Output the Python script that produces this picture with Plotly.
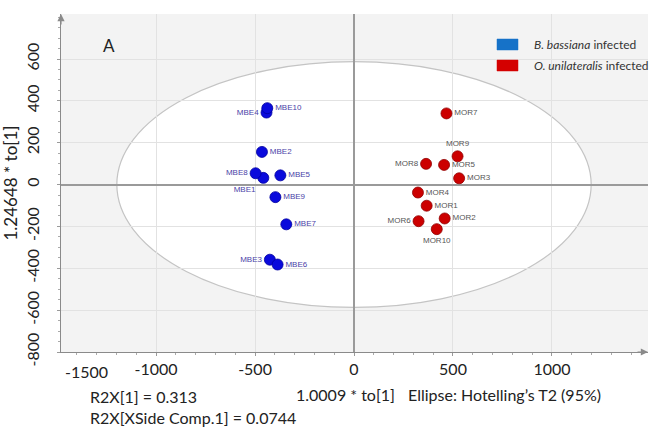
import plotly.graph_objects as go

# Scores for the two groups (predictive component vs orthogonal component)
mbe_names = ["MBE1", "MBE2", "MBE3", "MBE4", "MBE5", "MBE6", "MBE7", "MBE8", "MBE9", "MBE10"]
mbe_x = [-458, -465, -425, -442, -372, -386, -342, -497, -397, -438]
mbe_y = [32, 156, -359, 344, 44, -382, -190, 54, -60, 365]

mor_names = ["MOR1", "MOR2", "MOR3", "MOR4", "MOR5", "MOR6", "MOR7", "MOR8", "MOR9", "MOR10"]
mor_x = [367, 458, 531, 323, 455, 326, 467, 364, 523, 418]
mor_y = [-101, -162, 30, -38, 94, -175, 340, 99, 135, -213]

mbe_pos = ["bottom left", "middle right", "middle left", "middle left", "middle right",
           "middle right", "middle right", "middle left", "middle right", "middle right"]
mor_pos = ["middle right", "middle right", "middle right", "middle right", "middle right",
           "middle left", "middle right", "middle left", "top center", "bottom center"]

# Hotelling's T2 (95%) ellipse semi-axes
ell_a = 1198
ell_b = 587

x_ticks = [-1000, -500, 0, 500, 1000]
y_ticks = [-800, -600, -400, -200, 0, 200, 400, 600]

FONT = "Lato, 'Open Sans', sans-serif"

fig = go.Figure()

fig.add_trace(go.Scatter(
    x=mbe_x, y=mbe_y, mode="markers+text", text=mbe_names, textposition=mbe_pos,
    marker=dict(size=11, color="#0a0adc", line=dict(color="#0000a0", width=0.8)),
    textfont=dict(family="Arial, sans-serif", size=8, color="#4a3fa8"),
    showlegend=False, cliponaxis=False,
))
fig.add_trace(go.Scatter(
    x=mor_x, y=mor_y, mode="markers+text", text=mor_names, textposition=mor_pos,
    marker=dict(size=11, color="#cc0000", line=dict(color="#900000", width=0.8)),
    textfont=dict(family="Arial, sans-serif", size=8, color="#555555"),
    showlegend=False, cliponaxis=False,
))

fig.add_shape(type="circle", xref="x", yref="y",
              x0=-ell_a, x1=ell_a, y0=-ell_b, y1=ell_b,
              fillcolor="white", line=dict(color="#c4c4c4", width=1.2), layer="below")

# Legend swatches
L, T, W, H = 61, 14, 587, 338
def px(x):
    return (x - L) / W
def py(y):
    return (T + H - y) / H

for yc, col, label in [(44.5, "#1672c8", "<i>B. bassiana</i> infected"),
                       (65.5, "#d40000", "<i>O. unilateralis</i> infected")]:
    fig.add_shape(type="rect", xref="paper", yref="paper",
                  x0=px(497), x1=px(518), y0=py(yc + 5.5), y1=py(yc - 5.5),
                  fillcolor=col, line=dict(color=col, width=0.5))
    fig.add_annotation(xref="paper", yref="paper", x=px(532), y=py(yc), text=label,
                       showarrow=False, xanchor="left", yanchor="middle",
                       font=dict(family=FONT, size=12, color="#333333"))

# Panel letter
fig.add_annotation(xref="paper", yref="paper", x=px(101), y=py(33), text="A",
                   showarrow=False, font=dict(family=FONT, size=17, color="#222222"))

# Axis arrows
fig.add_annotation(xref="paper", yref="paper", x=0, y=1, ax=0, ay=12, text="",
                   showarrow=True, arrowhead=2, arrowsize=1.2, arrowwidth=1.2,
                   arrowcolor="#8a8a8a")
fig.add_annotation(xref="paper", yref="paper", x=1, y=0, ax=-12, ay=0, text="",
                   showarrow=True, arrowhead=2, arrowsize=1.2, arrowwidth=1.2,
                   arrowcolor="#8a8a8a")

# First x tick label, kept inside the axis start
fig.add_annotation(xref="paper", yref="paper", x=px(63), y=py(371), text="-1500",
                   showarrow=False, xanchor="left", yanchor="middle",
                   font=dict(family=FONT, size=16, color="#222222"))

# Summary statistics under the axis
for x0, yc, txt in [(88, 396, "R2X[1] = 0.313"),
                    (88, 418, "R2X[XSide Comp.1] = 0.0744")]:
    fig.add_annotation(xref="paper", yref="paper", x=px(x0), y=py(yc), text=txt,
                       showarrow=False, xanchor="left", yanchor="middle",
                       font=dict(family=FONT, size=16, color="#222222"))
fig.add_annotation(xref="paper", yref="paper", x=px(397), y=py(394), text="1.0009 * to[1]",
                   showarrow=False, xanchor="right", yanchor="middle",
                   font=dict(family=FONT, size=16, color="#222222"))
fig.add_annotation(xref="paper", yref="paper", x=px(406), y=py(394),
                   text="Ellipse: Hotelling\u2019s T2 (95%)",
                   showarrow=False, xanchor="left", yanchor="middle",
                   font=dict(family=FONT, size=16, color="#222222"))

fig.update_xaxes(
    range=[-1480, 1485], tickvals=x_ticks, ticktext=[str(v) for v in x_ticks],
    showgrid=True, gridcolor="#e2e2e2", gridwidth=1,
    zeroline=True, zerolinecolor="#9a9a9a", zerolinewidth=1.6,
    showline=True, linecolor="#8a8a8a", linewidth=1.2,
    ticks="outside", ticklen=3, tickcolor="#9a9a9a",
    minor=dict(dtick=100, ticks="outside", ticklen=2, tickcolor="#aaaaaa", showgrid=False),
    tickfont=dict(family=FONT, size=16, color="#222222"),
    fixedrange=True,
)
fig.update_yaxes(
    range=[-800, 815], tickvals=y_ticks, ticktext=[str(v) for v in y_ticks],
    tickangle=-90, ticklabelstandoff=12,
    title=dict(text="1.24648 * to[1]", standoff=2,
               font=dict(family=FONT, size=17, color="#222222")),
    automargin=False,
    showgrid=True, gridcolor="#e2e2e2", gridwidth=1,
    zeroline=True, zerolinecolor="#9a9a9a", zerolinewidth=1.6,
    showline=True, linecolor="#8a8a8a", linewidth=1.2,
    ticks="outside", ticklen=3, tickcolor="#9a9a9a",
    minor=dict(dtick=50, ticks="outside", ticklen=2, tickcolor="#aaaaaa", showgrid=False),
    tickfont=dict(family=FONT, size=16, color="#222222"),
    fixedrange=True,
)

fig.update_layout(
    width=652, height=427,
    margin=dict(l=L, r=652 - L - W, t=T, b=427 - T - H),
    paper_bgcolor="white", plot_bgcolor="#f3f3f3",
    showlegend=False,
)

fig.write_html("out.html")
